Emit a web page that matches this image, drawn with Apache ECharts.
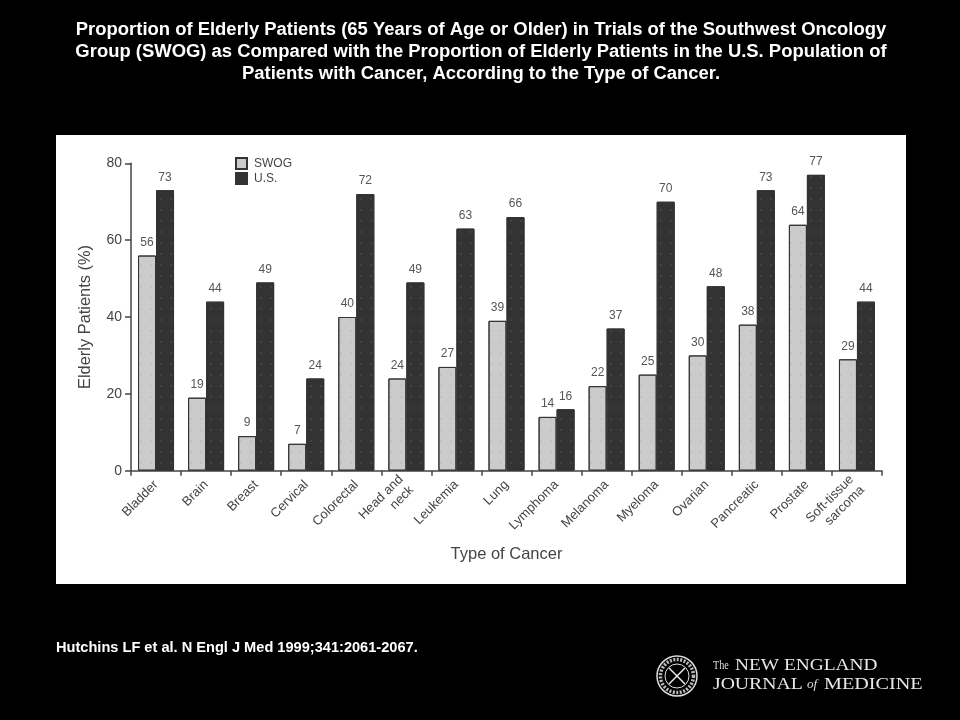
<!DOCTYPE html>
<html><head><meta charset="utf-8">
<style>html,body{margin:0;padding:0;background:#000}#c{width:960px;height:720px}</style>
<script src="https://cdn.jsdelivr.net/npm/echarts@6/dist/echarts.min.js"></script>
</head><body><div id="c"></div>
<script>
const categories = ['Bladder','Brain','Breast','Cervical','Colorectal','Head and\nneck','Leukemia','Lung','Lymphoma','Melanoma','Myeloma','Ovarian','Pancreatic','Prostate','Soft-tissue\nsarcoma'];
const swog = [56,19,9,7,40,24,27,39,14,22,25,30,38,64,29];
const us = [73,44,49,24,72,49,63,66,16,37,70,48,73,77,44];
const yTicks = {min:0,max:80,interval:20};
const titleLines = [
 'Proportion of Elderly Patients (65 Years of Age or Older) in Trials of the Southwest Oncology',
 'Group (SWOG) as Compared with the Proportion of Elderly Patients in the U.S. Population of',
 'Patients with Cancer, According to the Type of Cancer.'];
const citation = 'Hutchins LF et al. N Engl J Med 1999;341:2061-2067.';
const sans = '"Liberation Sans", Arial, sans-serif';
const serif = '"Liberation Serif", serif';
const ink = '#444';
function barSeries(name,data,fill,dot){
  return {name,type:'bar',data,barWidth:18,barGap:'0%',
    itemStyle:{color:fill,borderColor:'#333',borderWidth:1,
      decal:{symbol:'rect',symbolSize:0.6,color:dot,dashArrayX:[2,8],dashArrayY:[2,9],rotation:0}},
    label:{show:true,position:'top',distance:7,color:'#555',fontFamily:sans,fontSize:12}};
}
function wide(text,x,y,font,sx,fill){
  return {type:'text',x,y,scaleX:sx,style:{text,x:0,y:0,fill,font}};
}
const chart = echarts.init(document.getElementById('c'),null,{renderer:'canvas',width:960,height:720});
const g = [
 {type:'rect',z:-1,shape:{x:56,y:135,width:850,height:449},style:{fill:'#fff'}},
 {type:'text',style:{text:citation,x:56,y:640,fill:'#fff',font:'bold 14.6px '+sans}},
 {type:'circle',shape:{cx:677,cy:676,r:20},style:{fill:'none',stroke:'#ddd',lineWidth:1.5}},
 {type:'circle',shape:{cx:677,cy:676,r:16.5},style:{fill:'none',stroke:'#bbb',lineWidth:3.5,lineDash:[2,1.5]}},
 {type:'circle',shape:{cx:677,cy:676,r:12},style:{fill:'none',stroke:'#ddd',lineWidth:1}},
 {type:'line',shape:{x1:669,y1:668,x2:685,y2:684},style:{stroke:'#eee',lineWidth:1.5}},
 {type:'line',shape:{x1:685,y1:668,x2:669,y2:684},style:{stroke:'#eee',lineWidth:1.5}},
 wide('The',713,660,'12px '+serif,0.85,'#ddd'),
 wide('NEW ENGLAND',735,658,'16px '+serif,1.21,'#e8e8e8'),
 wide('JOURNAL',713,677,'16px '+serif,1.23,'#e8e8e8'),
 wide('of',807,679,'italic 12px '+serif,1.1,'#ddd'),
 wide('MEDICINE',824,677,'16px '+serif,1.26,'#e8e8e8')
];
titleLines.forEach((t,i)=>g.push({type:'text',style:{text:t,x:481,y:[21,43,65][i],align:'center',fill:'#fff',font:'bold 18.45px '+sans}}));
chart.setOption({
 animation:false,backgroundColor:'#000',
 graphic:g,
 legend:{left:235,top:157,orient:'vertical',icon:'rect',itemWidth:11,itemHeight:11,itemGap:2,
   textStyle:{color:ink,fontFamily:sans,fontSize:12,padding:[0,0,0,2]},
   data:['SWOG','U.S.'],padding:0},
 grid:{left:131,right:78,top:163.3,bottom:249.3},
 xAxis:{type:'category',data:categories,
   name:'Type of Cancer',nameLocation:'middle',nameGap:75,
   nameTextStyle:{color:ink,fontFamily:sans,fontSize:16.5},
   axisLine:{lineStyle:{color:ink,width:1.5}},
   axisTick:{show:true,length:5,alignWithLabel:false,lineStyle:{color:ink,width:1.5}},
   axisLabel:{rotate:45,interval:0,margin:12,color:ink,fontFamily:sans,fontSize:13,lineHeight:15}},
 yAxis:{type:'value',min:yTicks.min,max:yTicks.max,interval:yTicks.interval,
   name:'Elderly Patients (%)',nameLocation:'middle',nameGap:38,
   nameTextStyle:{color:ink,fontFamily:sans,fontSize:16.4},
   axisLine:{show:true,lineStyle:{color:ink,width:1.5}},
   axisTick:{show:true,length:6,lineStyle:{color:ink,width:1.5}},
   splitLine:{show:false},
   axisLabel:{margin:9,color:ink,fontFamily:sans,fontSize:14}},
 series:[barSeries('SWOG',swog,'#cbcbcb','#aaa'),barSeries('U.S.',us,'#333333','#666')]
});
</script></body></html>
